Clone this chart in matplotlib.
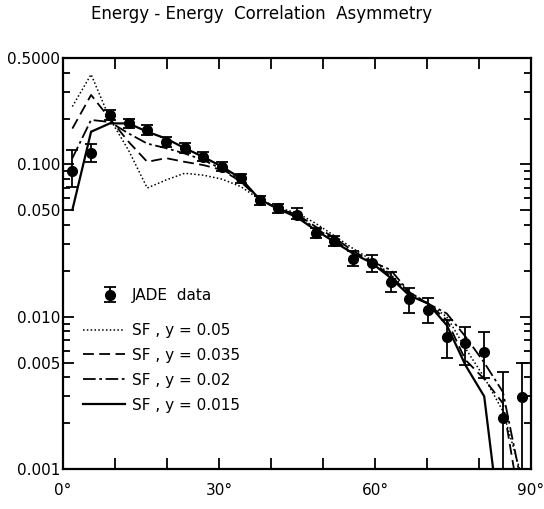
import numpy as np
import matplotlib.pyplot as plt
from matplotlib.ticker import FixedLocator, NullFormatter

# bin centres (degrees)
angle = np.arange(25) * 3.6 + 1.8

# JADE data: value, lower and upper end of error bar
jade = [0.091, 0.119, 0.211, 0.186, 0.168, 0.141, 0.128, 0.1125, 0.0966, 0.081,
        0.058, 0.0515, 0.0466, 0.0355, 0.0315, 0.0240, 0.0224, 0.0170, 0.0130, 0.0111,
        0.00733, 0.00669, 0.00589, 0.00215, 0.00299]
jade_lo = [0.0713, 0.104, 0.196, 0.173, 0.156, 0.131, 0.119, 0.105, 0.090, 0.0755,
           0.054, 0.048, 0.0435, 0.0330, 0.0292, 0.0214, 0.0197, 0.0146, 0.0106, 0.0091,
           0.00536, 0.00482, 0.00394, 0.0009, 0.0009]
jade_hi = [0.124, 0.137, 0.228, 0.200, 0.181, 0.152, 0.138, 0.121, 0.104, 0.087,
           0.062, 0.055, 0.0520, 0.0382, 0.0338, 0.0272, 0.0254, 0.0197, 0.0154, 0.0133,
           0.0095, 0.0086, 0.00797, 0.00435, 0.00497]

# SF model curves
sf_005 = [0.24, 0.39, 0.20, 0.124, 0.070, 0.079, 0.0875, 0.085, 0.080, 0.0715,
          0.059, 0.052, 0.048, 0.041, 0.034, 0.028, 0.0235, 0.019, 0.0145, 0.0122,
          0.0100, 0.0062, 0.0040, 0.0024, 0.0009]
sf_0035 = [0.172, 0.286, 0.20, 0.141, 0.104, 0.110, 0.104, 0.099, 0.092, 0.077,
           0.059, 0.051, 0.047, 0.039, 0.033, 0.027, 0.023, 0.0185, 0.0142, 0.0122,
           0.0095, 0.0052, 0.0039, 0.0027, 0.0005]
sf_002 = [0.11, 0.196, 0.19, 0.160, 0.137, 0.128, 0.118, 0.107, 0.093, 0.079,
          0.059, 0.051, 0.046, 0.038, 0.032, 0.026, 0.023, 0.0203, 0.0145, 0.0122,
          0.0105, 0.0074, 0.0050, 0.0032, 0.0008]
sf_0015 = [0.0503, 0.164, 0.186, 0.186, 0.164, 0.148, 0.128, 0.112, 0.0966, 0.081,
           0.059, 0.051, 0.045, 0.037, 0.031, 0.026, 0.0225, 0.018, 0.0138, 0.0122,
           0.0088, 0.0048, 0.0030, 0.0003, 0.0002]

ytick_vals = [0.001, 0.005, 0.010, 0.050, 0.100, 0.5]
ytick_labels = ['0.001', '0.005', '0.010', '0.050', '0.100', '0.5000']
xtick_vals = [0, 30, 60, 90]
xtick_labels = ['0°', '30°', '60°', '90°']

plt.rcParams['font.family'] = 'DejaVu Sans'
fig = plt.figure(figsize=(5.44, 5.09), dpi=100)
ax = fig.add_axes([63/544, 1-469/509, 468/544, 411/509])

jade = np.array(jade)
yerr = [jade - np.array(jade_lo), np.array(jade_hi) - jade]
hj = ax.errorbar(angle, jade, yerr=yerr, fmt='o', color='black', ms=7, capsize=4,
                 elinewidth=1.3, capthick=1.3, zorder=5)
l1, = ax.plot(angle, sf_005, color='black', ls=(0, (1, 1.5)), lw=1.1)
l2, = ax.plot(angle, sf_0035, color='black', ls=(0, (6, 3)), lw=1.3)
l3, = ax.plot(angle, sf_002, color='black', ls=(0, (7, 2, 1.5, 2)), lw=1.3)
l4, = ax.plot(angle, sf_0015, color='black', ls='-', lw=1.6)

ax.set_yscale('log')
ax.set_ylim(0.001, 0.5)
ax.set_xlim(0, 90)

ax.yaxis.set_major_locator(FixedLocator(ytick_vals))
ax.set_yticklabels(ytick_labels)
minor = [v * m for v in [0.001, 0.01, 0.1] for m in range(2, 10)]
minor = [v for v in minor if v not in ytick_vals and v < 0.5]
ax.yaxis.set_minor_locator(FixedLocator(minor))
ax.yaxis.set_minor_formatter(NullFormatter())

ax.set_xticks(np.arange(0, 91, 10))
ax.set_xticklabels(['' if t not in xtick_vals else xtick_labels[xtick_vals.index(t)]
                    for t in range(0, 91, 10)])

ax.tick_params(which='both', direction='in', top=True, right=True, width=1.3,
               labelsize=11)
ax.tick_params(which='major', length=8)
ax.tick_params(which='minor', length=5)
ax.tick_params(axis='x', pad=10)
ax.tick_params(axis='y', pad=2)
for s in ax.spines.values():
    s.set_linewidth(1.6)

leg1 = ax.legend([hj], ['JADE  data'], loc='upper left', bbox_to_anchor=(0.0385, 0.474),
                 frameon=False, fontsize=11, handlelength=2.0, handletextpad=0.4)
ax.add_artist(leg1)
ax.legend([l1, l2, l3, l4],
          ['SF , y = 0.05', 'SF , y = 0.035', 'SF , y = 0.02', 'SF , y = 0.015'],
          loc='upper left', bbox_to_anchor=(0.013, 0.389), frameon=False,
          fontsize=11, handlelength=2.75, labelspacing=0.65, handletextpad=0.5)

fig.text(262/544, 1-14/509, 'Energy - Energy  Correlation  Asymmetry',
         ha='center', va='center', fontsize=12)

plt.savefig('out.png', dpi=100)
